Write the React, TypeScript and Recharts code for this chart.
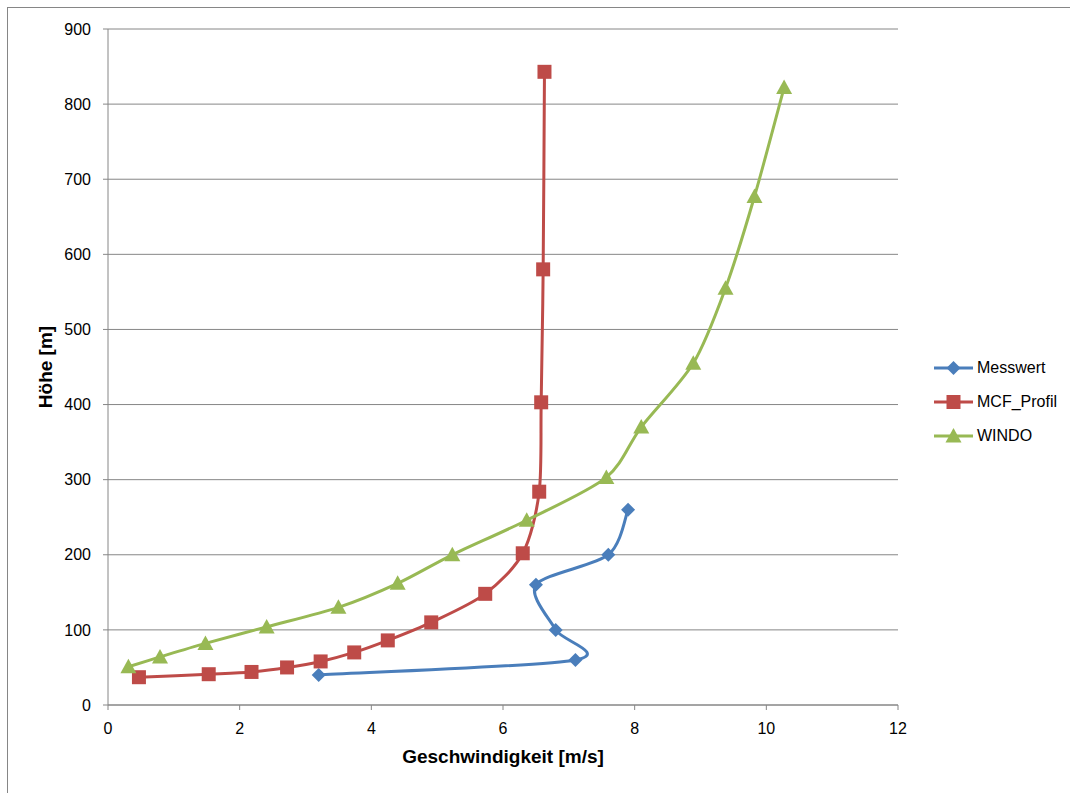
import { LineChart, Line, XAxis, YAxis, CartesianGrid } from "recharts"

// Windprofil: Höhe über Geschwindigkeit
const messwertSpeed = [3.2, 7.1, 6.8, 6.5, 7.6, 7.9]
const messwertHeight = [40, 60, 100, 160, 200, 260]

const mcfSpeed = [0.47, 1.53, 2.18, 2.72, 3.23, 3.74, 4.25, 4.91, 5.73, 6.3, 6.55, 6.58, 6.61, 6.63]
const mcfHeight = [37, 41, 44, 50, 58, 70, 86, 110, 148, 202, 284, 403, 580, 843]

const windoSpeed = [0.31, 0.79, 1.48, 2.41, 3.5, 4.4, 5.23, 6.36, 7.57, 8.1, 8.89, 9.38, 9.82, 10.27]
const windoHeight = [51, 64, 82, 104, 130, 162, 200, 246, 303, 370, 455, 555, 677, 822]

const xTicks = [0, 2, 4, 6, 8, 10, 12]
const yTicks = [0, 100, 200, 300, 400, 500, 600, 700, 800, 900]

const FONT = "'Liberation Sans', Arial, sans-serif"
const AXIS = "#868686"

const toPoints = (speed: number[], height: number[]) =>
  speed.map((v, i) => ({ v, h: height[i] }))

// Excel-like smoothed line (Catmull-Rom style cubic bezier)
const SMOOTH = 1 / 7
function excelSmooth(context: any) {
  let pts: number[][] = []
  return {
    areaStart() {},
    areaEnd() {},
    lineStart() {
      pts = []
    },
    point(x: number, y: number) {
      pts.push([+x, +y])
    },
    lineEnd() {
      if (!pts.length) return
      context.moveTo(pts[0][0], pts[0][1])
      for (let i = 0; i < pts.length - 1; i++) {
        const p0 = pts[i - 1] ?? pts[i]
        const p1 = pts[i]
        const p2 = pts[i + 1]
        const p3 = pts[i + 2] ?? pts[i + 1]
        context.bezierCurveTo(
          p1[0] + (p2[0] - p0[0]) * SMOOTH,
          p1[1] + (p2[1] - p0[1]) * SMOOTH,
          p2[0] - (p3[0] - p1[0]) * SMOOTH,
          p2[1] - (p3[1] - p1[1]) * SMOOTH,
          p2[0],
          p2[1]
        )
      }
    },
  }
}

type Shape = "diamond" | "square" | "triangle"

function markerPath(shape: Shape, cx: number, cy: number) {
  if (shape === "diamond") return `M${cx} ${cy - 7}L${cx + 7} ${cy}L${cx} ${cy + 7}L${cx - 7} ${cy}Z`
  if (shape === "square") return `M${cx - 7} ${cy - 7}h14v14h-14Z`
  return `M${cx} ${cy - 8}L${cx + 8} ${cy + 6.5}L${cx - 8} ${cy + 6.5}Z`
}

const makeDot = (shape: Shape, color: string) => (props: any) => {
  const { cx, cy, index } = props
  if (cx == null || cy == null) return <g key={index} />
  return <path key={index} d={markerPath(shape, cx, cy)} fill={color} />
}

const series = [
  { name: "Messwert", color: "#4A7EBB", shape: "diamond" as Shape, data: toPoints(messwertSpeed, messwertHeight) },
  { name: "MCF_Profil", color: "#BE4B48", shape: "square" as Shape, data: toPoints(mcfSpeed, mcfHeight) },
  { name: "WINDO", color: "#98B954", shape: "triangle" as Shape, data: toPoints(windoSpeed, windoHeight) },
]

export default function App() {
  return (
    <div
      style={{
        position: "fixed",
        left: 0,
        top: 0,
        width: 1070,
        height: 793,
        overflow: "hidden",
        background: "#fff",
        fontFamily: FONT,
      }}
    >
      {/* chart frame, runs off the right and bottom edge */}
      <div
        style={{
          position: "absolute",
          left: 7,
          top: 7,
          width: 1200,
          height: 900,
          border: `1px solid ${AXIS}`,
        }}
      />
      <div style={{ position: "absolute", left: 0, top: 0 }}>
        <LineChart width={1070} height={793} margin={{ top: 29, right: 172, bottom: 28, left: 0 }}>
          <CartesianGrid vertical={false} stroke={AXIS} strokeWidth={1} />
          <XAxis
            type="number"
            dataKey="v"
            domain={[0, 12]}
            ticks={xTicks}
            interval={0}
            height={60}
            tickSize={5}
            tickMargin={13}
            stroke={AXIS}
            tick={{ fill: "#000", fontSize: 16, fontFamily: FONT }}
            label={{
              value: "Geschwindigkeit [m/s]",
              position: "bottom",
              offset: -15,
              style: { fill: "#000", fontSize: 19, fontWeight: "bold", fontFamily: FONT },
            }}
          />
          <YAxis
            type="number"
            domain={[0, 900]}
            ticks={yTicks}
            interval={0}
            width={108}
            tickSize={5}
            tickMargin={12}
            stroke={AXIS}
            tick={{ fill: "#000", fontSize: 16, fontFamily: FONT }}
            label={{
              value: "Höhe [m]",
              angle: -90,
              position: "insideLeft",
              offset: 45,
              style: { fill: "#000", fontSize: 19, fontWeight: "bold", fontFamily: FONT, textAnchor: "middle" },
            }}
          />
          {series.map((s) => (
            <Line
              key={s.name}
              name={s.name}
              data={s.data}
              dataKey="h"
              type={excelSmooth as any}
              stroke={s.color}
              strokeWidth={3}
              dot={makeDot(s.shape, s.color)}
              activeDot={false}
              isAnimationActive={false}
            />
          ))}
        </LineChart>
      </div>

      {/* legend */}
      <div style={{ position: "absolute", left: 932, top: 357 }}>
        {series.map((s) => (
          <div key={s.name} style={{ display: "flex", alignItems: "center", height: 22, marginBottom: 12 }}>
            <svg width={42} height={16} style={{ marginRight: 3 }}>
              <line x1={2} y1={8} x2={41} y2={8} stroke={s.color} strokeWidth={3} />
              <path d={markerPath(s.shape, 21.5, 8)} fill={s.color} />
            </svg>
            <span style={{ fontSize: 16, color: "#000" }}>{s.name}</span>
          </div>
        ))}
      </div>
    </div>
  )
}
